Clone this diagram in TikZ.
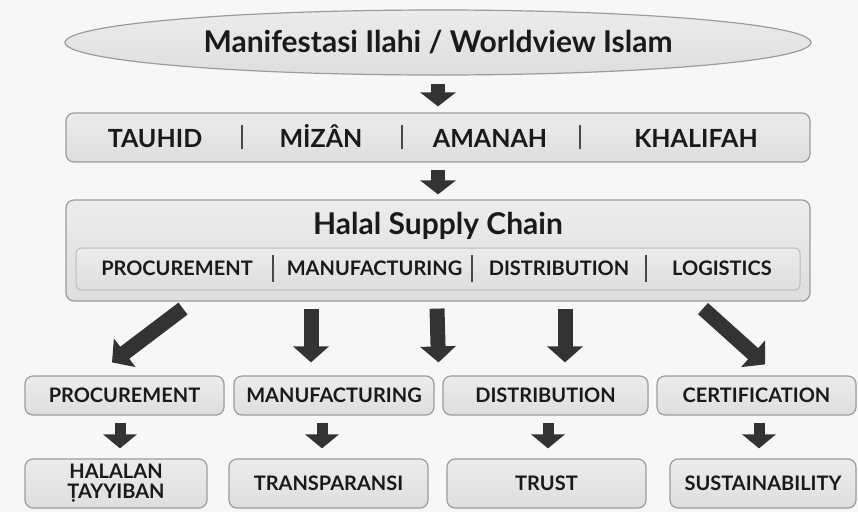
\documentclass[tikz,border=0pt]{standalone}
\usepackage{fontspec}
\setmainfont{Lato}
\usepackage{xcolor}
\usepackage{tikz}
\usetikzlibrary{positioning,arrows.meta,shapes.geometric,calc}

\definecolor{bgcol}{HTML}{F7F7F7}
\definecolor{boxtop}{HTML}{ECECEC}
\definecolor{boxbot}{HTML}{DEDEDE}
\definecolor{boxline}{HTML}{9C9C9C}
\definecolor{inkcol}{HTML}{1A1A1A}
\definecolor{arrowcol}{HTML}{333333}

\tikzset{
    greybox/.style={draw=boxline, line width=1.2pt, rounded corners=8pt,
        top color=boxtop, bottom color=boxbot, inner sep=0pt, text=inkcol,
        font=\bfseries\fontsize{20}{20}\selectfont, align=center},
    topoval/.style={draw=boxline, line width=1.2pt, ellipse, inner sep=0pt,
        top color=boxtop, bottom color=boxbot, text=inkcol,
        minimum width=746pt, minimum height=65pt,
        font=\bfseries\fontsize{30}{32}\selectfont},
    valtext/.style={text=inkcol, inner sep=0pt, anchor=base, font=\bfseries\fontsize{25}{27}\selectfont},
    chaintext/.style={text=inkcol, inner sep=0pt, anchor=base, font=\bfseries\fontsize{20}{22}\selectfont},
    sepline/.style={draw=inkcol!80, line width=1.3pt},
    bigarrow/.style={draw=arrowcol, line width=15pt, -{Triangle[length=16pt,width=35pt]}},
    smallarrow/.style={draw=arrowcol, line width=11pt, -{Triangle[length=14pt,width=33pt]}}
}

\begin{document}
\begin{tikzpicture}[x=1pt, y=-1pt]
    % background
    \fill[bgcol] (0,0) rectangle (858,512);
    \useasboundingbox (0,0) rectangle (858,512);

    % Worldview
    \node[topoval] (world) at (438,42.5) {Manifestasi Ilahi / Worldview Islam};

    % Values bar
    \node[greybox, minimum width=744pt, minimum height=49pt] (values) at (438,137.5) {};
    \node[valtext] (tauhid) at (155,147) {TAUHID};
    \node[valtext] (mizan) at (321,147) {MİZÂN};
    \node[valtext] (amanah) at (490,147) {AMANAH};
    \node[valtext] (khalifah) at (696,147) {KHALIFAH};
    \draw[sepline] (242,125) -- (242,149);
    \draw[sepline] (402,125) -- (402,149);
    \draw[sepline] (580,125) -- (580,149);

    % Halal Supply Chain
    \node[greybox, minimum width=744pt, minimum height=101pt] (hsc) at (438,250.5) {};
    \node[valtext, font=\bfseries\fontsize{30}{32}\selectfont] (hsctitle) at (438,234) {Halal Supply Chain};
    \node[greybox, draw=boxline!70, line width=1pt, rounded corners=5pt,
          minimum width=724pt, minimum height=42pt] (stages) at (438,269) {};
    \node[chaintext] (sproc) at (177,275) {PROCUREMENT};
    \node[chaintext] (smfg) at (374.5,275) {MANUFACTURING};
    \node[chaintext] (sdist) at (559,275) {DISTRIBUTION};
    \node[chaintext] (slog) at (722,275) {LOGISTICS};
    \draw[sepline] (273,255) -- (273,282);
    \draw[sepline] (472,255) -- (472,282);
    \draw[sepline] (646,255) -- (646,282);

    % Functions
    \node[greybox, minimum width=199pt, minimum height=39pt] (proc) at (124.5,395.5) {PROCUREMENT};
    \node[greybox, minimum width=200pt, minimum height=39pt] (mfg) at (334,395.5) {MANUFACTURING};
    \node[greybox, minimum width=205pt, minimum height=39pt] (dist) at (545.5,395.5) {DISTRIBUTION};
    \node[greybox, minimum width=199pt, minimum height=39pt] (cert) at (756.5,395.5) {CERTIFICATION};
    \coordinate (gap) at ($(mfg.north east)!0.5!(dist.north west)$);

    % Outcomes
    \node[greybox, minimum width=182pt, minimum height=49pt] (halal) at (116,483.5) {HALALAN\\ṬAYYIBAN};
    \node[greybox, minimum width=199pt, minimum height=49pt] (transp) at (328.5,483.5) {TRANSPARANSI};
    \node[greybox, minimum width=199pt, minimum height=49pt] (trust) at (546.5,483.5) {TRUST};
    \node[greybox, minimum width=186pt, minimum height=49pt] (sust) at (763,483.5) {SUSTAINABILITY};

    % Arrows down the chain
    \draw[bigarrow, line width=14pt, -{Triangle[length=14pt,width=35pt]}]
        ([yshift=-8pt]world.south) -- ([yshift=6pt]values.north);
    \draw[bigarrow, line width=14pt, -{Triangle[length=14pt,width=35pt]}]
        ([yshift=-7pt]values.south) -- ([yshift=5pt]hsc.north);

    % Arrows from the chain
    \draw[bigarrow] ([xshift=-255pt,yshift=-7pt]hsc.south) -- ([xshift=-12.5pt,yshift=13pt]proc.north);
    \draw[bigarrow] ([xshift=-127pt,yshift=-7pt]hsc.south) -- ([xshift=-23pt,yshift=13pt]mfg.north);
    \draw[bigarrow] ([xshift=-1pt,yshift=-7pt]hsc.south) -- ([yshift=13pt]gap);
    \draw[bigarrow] ([xshift=127pt,yshift=-7pt]hsc.south) -- ([xshift=19.5pt,yshift=13pt]dist.north);
    \draw[bigarrow] ([xshift=265pt,yshift=-7pt]hsc.south) -- ([xshift=8.5pt,yshift=11pt]cert.north);

    % Arrows to outcomes
    \draw[smallarrow] ([xshift=-4.5pt,yshift=-7pt]proc.south) -- ([xshift=4pt,yshift=10pt]halal.north);
    \draw[smallarrow] ([xshift=-12pt,yshift=-7pt]mfg.south) -- ([xshift=-6.5pt,yshift=10pt]transp.north);
    \draw[smallarrow] ([xshift=2.5pt,yshift=-7pt]dist.south) -- ([xshift=1.5pt,yshift=10pt]trust.north);
    \draw[smallarrow] ([xshift=2.5pt,yshift=-7pt]cert.south) -- ([xshift=-4pt,yshift=10pt]sust.north);
\end{tikzpicture}
\end{document}
